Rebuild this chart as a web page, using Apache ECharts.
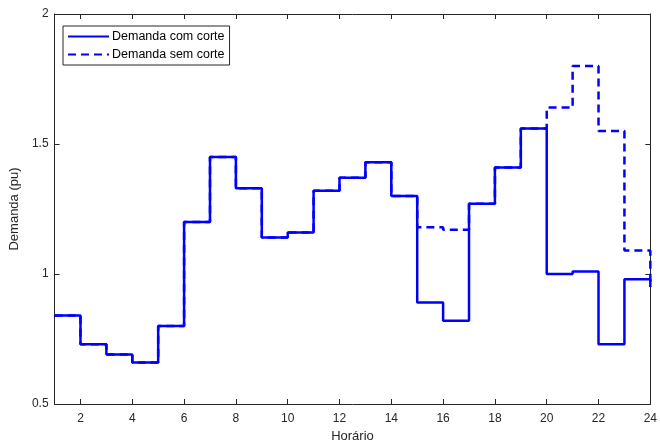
<!DOCTYPE html>
<html>
<head>
<meta charset="utf-8">
<script src="https://cdn.jsdelivr.net/npm/echarts@6/dist/echarts.min.js"></script>
<style>
  html, body { margin: 0; padding: 0; background: #fff; }
  #chart { width: 660px; height: 448px; }
</style>
</head>
<body>
<div id="chart"></div>
<script>
// dados
var horas = [1, 2, 3, 4, 5, 6, 7, 8, 9, 10, 11, 12, 13, 14, 15, 16, 17, 18, 19, 20, 21, 22, 23, 24];
var comCorte = [0.84, 0.73, 0.69, 0.66, 0.80, 1.20, 1.45, 1.33, 1.14, 1.16, 1.32, 1.37,
                1.43, 1.30, 0.89, 0.82, 1.27, 1.41, 1.56, 1.00, 1.01, 0.73, 0.98, 0.95];
var semCorte = [0.84, 0.73, 0.69, 0.66, 0.80, 1.20, 1.45, 1.33, 1.14, 1.16, 1.32, 1.37,
                1.43, 1.30, 1.18, 1.17, 1.27, 1.41, 1.56, 1.64, 1.80, 1.55, 1.09, 0.95];
var xTicks = [2, 4, 6, 8, 10, 12, 14, 16, 18, 20, 22, 24];
var yTicks = [0.5, 1, 1.5, 2];

var nomes = ['Demanda com corte', 'Demanda sem corte'];
var eixoCor = '#262626';
var fonte = 'Liberation Sans, Arial, sans-serif';

function pares(ys) {
  return horas.map(function (h, i) { return [h, ys[i]]; });
}

var chart = echarts.init(document.getElementById('chart'));

var xBase = {
  type: 'value',
  min: 1,
  max: 24,
  splitLine: { show: false },
  axisLine: { show: true, onZero: false, lineStyle: { color: eixoCor, width: 1 } },
  axisTick: { show: true, inside: true, length: 5, customValues: xTicks, lineStyle: { color: eixoCor } },
  axisLabel: { show: false, customValues: xTicks }
};
var yBase = {
  type: 'value',
  min: yTicks[0],
  max: yTicks[yTicks.length - 1],
  interval: 0.5,
  splitLine: { show: false },
  axisLine: { show: true, onZero: false, lineStyle: { color: eixoCor, width: 1 } },
  axisTick: { show: true, inside: true, length: 5, lineStyle: { color: eixoCor } },
  axisLabel: { show: false }
};

var option = {
  backgroundColor: '#fff',
  animation: false,
  grid: { left: 52, right: 7, top: 14, bottom: 41 },
  legend: {
    left: 63,
    top: 26,
    orient: 'vertical',
    data: nomes,
    itemWidth: 41,
    itemHeight: 12,
    itemGap: 5,
    padding: [4, 5, 4, 4],
    borderColor: eixoCor,
    borderWidth: 1,
    borderRadius: 0,
    backgroundColor: '#fff',
    itemStyle: { opacity: 0 },
    textStyle: { fontFamily: fonte, fontSize: 12.5, color: '#000', padding: [0, 0, 0, -2] }
  },
  xAxis: [
    Object.assign({}, xBase, {
      position: 'bottom',
      name: 'Horário',
      nameLocation: 'middle',
      nameGap: 26,
      nameTextStyle: { fontFamily: fonte, fontSize: 13, color: eixoCor },
      axisLabel: { show: true, customValues: xTicks, margin: 9, fontFamily: fonte, fontSize: 12, color: eixoCor }
    }),
    Object.assign({}, xBase, { position: 'top' })
  ],
  yAxis: [
    Object.assign({}, yBase, {
      position: 'left',
      name: 'Demanda (pu)',
      nameLocation: 'middle',
      nameGap: 32,
      nameTextStyle: { fontFamily: fonte, fontSize: 13, color: eixoCor },
      axisLabel: { show: true, margin: 6, fontFamily: fonte, fontSize: 12, color: eixoCor }
    }),
    Object.assign({}, yBase, { position: 'right' })
  ],
  series: [
    {
      name: nomes[0],
      type: 'line',
      step: 'end',
      symbol: 'none',
      data: pares(comCorte),
      lineStyle: { color: '#0000ff', width: 2.5, type: 'solid' },
      itemStyle: { color: '#0000ff' },
      z: 2
    },
    {
      name: nomes[1],
      type: 'line',
      step: 'end',
      symbol: 'none',
      data: pares(semCorte),
      lineStyle: { color: '#0000ff', width: 2.5, type: [8, 5] },
      itemStyle: { color: '#0000ff' },
      z: 3
    }
  ]
};

chart.setOption(option);
</script>
</body>
</html>
